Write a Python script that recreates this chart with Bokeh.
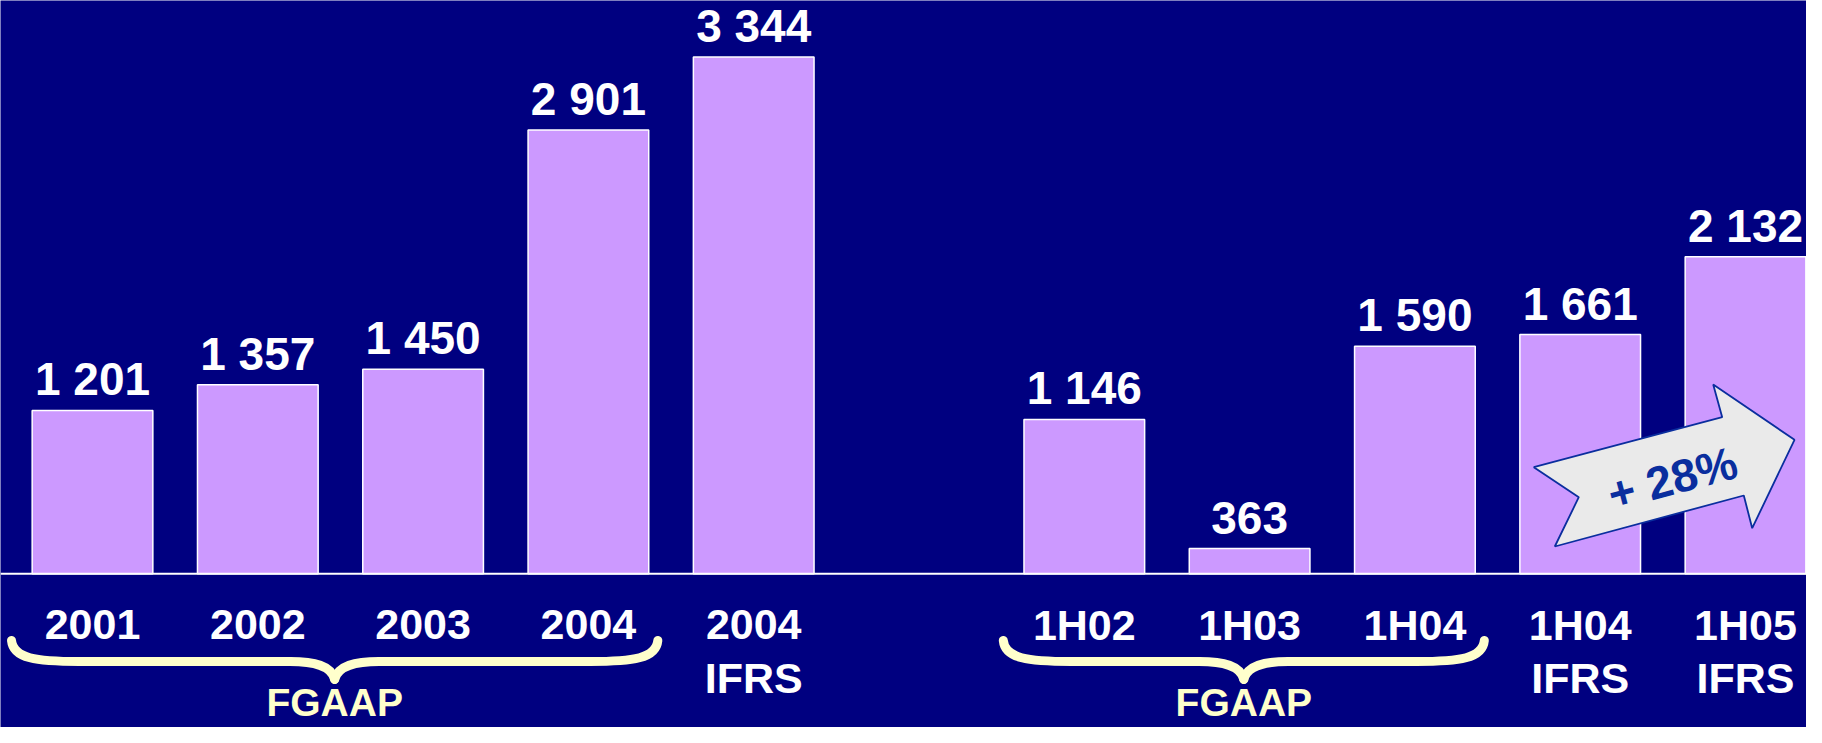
from bokeh.plotting import figure
from bokeh.models import Range1d, Span, ColumnDataSource
from bokeh.core.properties import value
from bokeh.embed import file_html
from bokeh.resources import INLINE

# ---------------- data ----------------
annual_categories = ["2001", "2002", "2003", "2004", "2004\nIFRS"]
annual_values = [1201, 1357, 1450, 2901, 3344]
half_categories = ["1H02", "1H03", "1H04", "1H04\nIFRS", "1H05\nIFRS"]
half_values = [1146, 363, 1590, 1661, 2132]
brace_groups = [("FGAAP", "2001", "2004"), ("FGAAP", "1H02", "1H04")]
growth_label = "+ 28%"
axis_floor = 210  # value at which the baseline is drawn

# ---------------- styles ----------------
BG = "#000080"
BAR = "#CC99FF"
BRACE = "#FFFFCC"
ARROW_FILL = "#EAEAEA"
ARROW_LINE = "#0A2E9E"
FONT = value("Liberation Sans")

W, H = 1806, 727

# slot positions: annual group, one empty slot, half-year group
cats = annual_categories + half_categories
vals = annual_values + half_values
xs = list(range(len(annual_categories))) + [len(annual_categories) + 1 + i for i in range(len(half_categories))]
labels = [f"{v:,}".replace(",", " ") for v in vals]
line1 = [c.split("\n")[0] for c in cats]
line2 = [c.split("\n")[1] if "\n" in c else "" for c in cats]

p = figure(width=W, height=H, output_backend="svg", toolbar_location=None,
           x_range=Range1d(-0.5566, 10.369), y_range=Range1d(-722.1, 3686.6),
           x_axis_location=None, y_axis_location=None, min_border=0,
           background_fill_color=BG, border_fill_color=BG, outline_line_color=None)
p.xgrid.visible = False
p.ygrid.visible = False
# pixel-space ranges for decorations
p.extra_x_ranges = {"px": Range1d(0, W)}
p.extra_y_ranges = {"px": Range1d(H, 0)}

src = ColumnDataSource(dict(x=xs, top=vals, label=labels, l1=line1, l2=line2))

p.vbar(x="x", top="top", bottom=axis_floor, width=0.73, source=src,
       fill_color=BAR, line_color="white", line_width=1.5)
p.add_layout(Span(location=axis_floor, dimension="width", line_color="white", line_width=2))

p.text(x="x", y="top", text="label", source=src, text_align="center", text_baseline="middle",
       y_offset=-31, text_font=FONT, text_font_style="bold", text_font_size="46px", text_color="white")

p.text(x="x", y=624, text="l1", source=src, y_range_name="px", text_align="center",
       text_baseline="middle", text_font=FONT, text_font_style="bold",
       text_font_size="43px", text_color="white")
p.text(x="x", y=677, text="l2", source=src, y_range_name="px", text_align="center",
       text_baseline="middle", text_font=FONT, text_font_style="bold",
       text_font_size="43px", text_color="white")

# braces
pos = dict(zip(cats, xs))
for name, a, b in brace_groups:
    x0 = pos[a] - 0.49
    x1 = pos[b] + 0.42
    xc = (x0 + x1) / 2
    e = 0.41   # end-curl width (slots)
    c = 0.27   # centre-curve half width (slots)
    ytop, yh, ytip = 640, 661, 679
    p.bezier(x0=[x0, x1, xc - c, xc + c], y0=[ytop, ytop, yh, yh],
             x1=[x0 + e, x1 - e, xc, xc], y1=[yh, yh, ytip, ytip],
             cx0=[x0 + 0.01, x1 - 0.01, xc - c * 0.45, xc + c * 0.45], cy0=[ytop + 18, ytop + 18, yh, yh],
             cx1=[x0 + 0.15, x1 - 0.15, xc - 0.02, xc + 0.02], cy1=[yh, yh, yh + 4, yh + 4],
             y_range_name="px", line_color=BRACE, line_width=9, line_cap="round")
    p.segment(x0=[x0 + e, xc + c], y0=[yh, yh], x1=[xc - c, x1 - e], y1=[yh, yh],
              y_range_name="px", line_color=BRACE, line_width=9, line_cap="round")
    p.text(x=[xc], y=[702], text=[name], y_range_name="px", text_align="center",
           text_baseline="middle", text_font=FONT, text_font_style="bold",
           text_font_size="39px", text_color=BRACE)

# growth arrow (pixel coordinates)
arrow_x = [1533.3, 1721.7, 1712.7, 1794.0, 1751.7, 1743.3, 1554.3, 1578.3]
arrow_y = [466.7, 416.7, 384.0, 439.3, 527.7, 495.0, 546.0, 496.7]
p.patch(arrow_x, arrow_y, x_range_name="px", y_range_name="px",
        fill_color=ARROW_FILL, line_color=ARROW_LINE, line_width=1.8)
p.text(x=[1672], y=[478], text=[growth_label], x_range_name="px", y_range_name="px",
       angle=15, angle_units="deg", text_align="center", text_baseline="middle",
       text_font=FONT, text_font_style="bold", text_font_size="46px", text_color=ARROW_LINE)

open("out.html", "w").write(file_html(p, INLINE))
